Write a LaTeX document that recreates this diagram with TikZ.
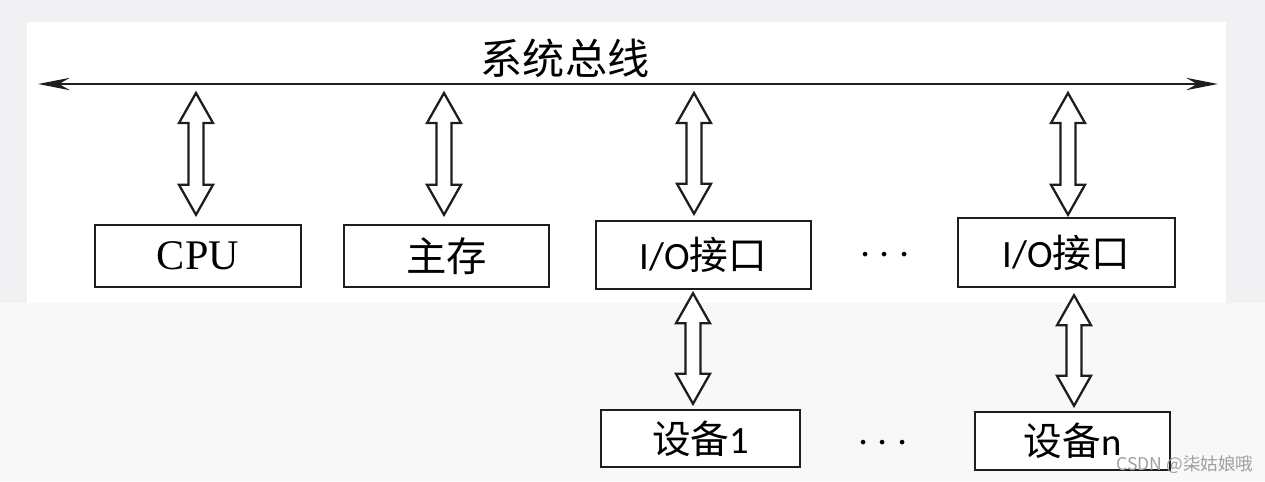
\documentclass[tikz,border=0pt]{standalone}
\usepackage{fontspec}
\setmainfont{Liberation Serif}
\newfontfamily\cjk{Noto Sans CJK SC}
\newfontfamily\cali{Carlito}
\usetikzlibrary{calc, arrows.meta}
\definecolor{pagegray}{HTML}{F1F0F3}
\definecolor{lowgray}{HTML}{F8F8F9}
\definecolor{inkgray}{HTML}{1E1E1E}
\tikzset{unit/.style={draw=inkgray, line width=1.4pt, fill=white, inner sep=0pt},
  dblarrow/.style={draw=inkgray, fill=white, line width=1.3pt, line join=miter,
    to path={let \p1=(\tikztostart), \p2=(\tikztotarget) in
      (\x1,\y1) -- (\x1+0.34cm,\y1-0.6cm) -- (\x1+0.15cm,\y1-0.6cm) -- (\x1+0.15cm,\y2+0.6cm)
      -- (\x1+0.34cm,\y2+0.6cm) -- (\x1,\y2) -- (\x1-0.34cm,\y2+0.6cm) -- (\x1-0.15cm,\y2+0.6cm)
      -- (\x1-0.15cm,\y1-0.6cm) -- (\x1-0.34cm,\y1-0.6cm) -- cycle}},
  bustip/.tip={Stealth[length=18pt, width=7pt, inset=6pt]}}

\begin{document}
\begin{tikzpicture}[x=0.02cm, y=-0.02cm]
                 \useasboundingbox (0,0) rectangle (1265,481);
                 % background
                 \fill[pagegray] (0,0) rectangle (1265,481);
                 \fill[lowgray] (0,303) rectangle (1265,481);
                 \fill[white] (27,22) rectangle (1226,303);
                 % bus
                 \coordinate (busL) at (38,84);
                 \coordinate (busR) at (1218,84);
                 \draw[inkgray, line width=1.5pt, bustip-bustip] (busL) -- (busR);
                 \node[font={\cjk\fontsize{24}{28}\selectfont}] (buslabel) at (565,58) {系统总线};
                 % units
                 \node[unit, minimum width=4.12cm, minimum height=1.24cm, font=\fontsize{24}{28}\selectfont] (cpu) at (198,256) {CPU};
                 \node[unit, minimum width=4.1cm, minimum height=1.24cm, font={\cjk\fontsize{23}{28}\selectfont}] (mem) at (446.5,256) {主存};
                 \node[unit, minimum width=4.3cm, minimum height=1.36cm, font=\fontsize{22}{26}\selectfont] (io1) at (703.5,255) {{\cali I/O}{\cjk 接口}};
                 \node[unit, minimum width=4.34cm, minimum height=1.38cm, font=\fontsize{22}{26}\selectfont] (io2) at (1066.5,252.5) {{\cali I/O}{\cjk 接口}};
                 \node[unit, minimum width=3.98cm, minimum height=1.14cm, font=\fontsize{22}{26}\selectfont] (dev1) at (700.5,438.5) {{\cjk 设备}{\cali 1}};
                 \node[unit, minimum width=3.9cm, minimum height=1.16cm, font=\fontsize{22}{26}\selectfont] (devn) at (1072.5,441) {{\cjk 设备}{\cali n}};
                 \node[font=\fontsize{28}{28}\selectfont] (dots1) at (885,256) {$\cdots$};
                 \node[font=\fontsize{24}{24}\selectfont] (dots2) at (883,444) {$\cdots$};
                 % double arrows
                 \draw[dblarrow] ($(cpu.north |- busL)+(-2,9)$) to ($(cpu.north)+(-2,-9)$);
                 \draw[dblarrow] ($(mem.north |- busL)+(-2.5,9)$) to ($(mem.north)+(-2.5,-9)$);
                 \draw[dblarrow] ($(io1.north |- busL)+(-9.5,9)$) to ($(io1.north)+(-9.5,-6)$);
                 \draw[dblarrow] ($(io2.north |- busL)+(1.5,9)$) to ($(io2.north)+(1.5,-2)$);
                 \draw[dblarrow] ($(io1.south)+(-10.5,3)$) to ($(dev1.north)+(0,-5)$);
                 \draw[dblarrow] ($(io2.south)+(7.5,7)$) to ($(devn.north)+(0,-5)$);
                 \node[text=gray!75, font={\cjk\fontsize{10}{12}\selectfont}, inner sep=1pt] (mark) at (1185,465) {CSDN @柒姑娘哦};
             \end{tikzpicture}
\end{document}
